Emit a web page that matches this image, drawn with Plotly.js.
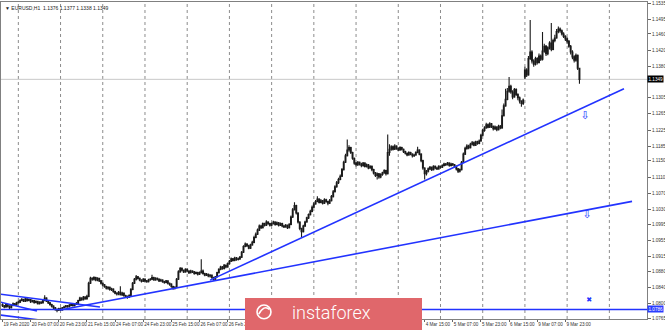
<!DOCTYPE html>
<html><head><meta charset="utf-8">
<script src="https://cdn.plot.ly/plotly-3.0.1.min.js"></script>
<style>html,body{margin:0;padding:0;background:#fff;}#chart{width:665px;height:330px;}</style>
</head><body><div id="chart"></div>
<script>
// EURUSD H1, prices stored in pips above 1.0700
const PIP_BASE = 1.07;
const openPips = [
98,95,92,98,94,90,96,100,97,102, 104,108,110,106,112,108,110,105,108,103,
106,100,104,102,108,114,106,102,98,94, 90,86,84,88,85,90,92,95,93,96,
98,95,99,100,108,114,110,116,112,118, 150,162,160,164,158,162,156,150,146,142,
138,140,135,136,130,126,124,128,122,126, 120,118,116,120,135,150,160,166,162,158,
155,160,156,154,158,160,164,158,162,160, 156,158,154,152,156,150,148,142,138,140,
160,178,186,182,178,184,180,176,180,178, 174,176,172,176,180,174,170,172,168,170,
164,160,166,176,184,190,186,194,190,198, 204,210,206,212,208,210,214,226,240,246,
242,236,244,250,262,270,280,290,286,296, 292,300,296,292,296,300,294,298,292,296,
290,288,292,286,294,312,330,340,322,300, 284,276,290,300,310,318,326,336,344,350,
356,348,352,346,354,350,346,352,362,374, 386,396,404,412,428,446,462,476,482,470,
456,444,440,446,442,438,444,436,440,432, 436,428,420,414,418,410,416,420,426,418,
470,478,484,478,486,480,476,482,478,472, 468,464,470,466,462,464,470,476,466,450,
432,418,424,430,434,428,436,432,430,436, 434,438,442,440,444,438,442,440,436,430,
424,428,446,466,480,486,482,490,494,488, 496,492,498,512,524,530,538,532,540,534,
528,532,526,534,530,560,584,600,620,632, 618,606,624,612,604,596,590,655,672,660,
700,716,694,686,700,690,706,698,718,730, 712,726,738,722,744,750,766,772,768,760,
754,748,742,730,716,704,696,708,676];
const highPips = [
101,97,100,99,96,98,103,102,105,107, 111,114,112,115,113,113,111,110,109,108,
107,106,106,110,121,116,108,104,100,96, 92,88,90,91,92,95,97,97,99,101,
100,101,104,110,117,116,119,118,122,154, 166,165,167,166,165,163,158,152,148,144,
143,142,139,138,132,128,131,143,129,127, 122,120,123,138,153,163,170,168,164,160,
163,162,158,161,163,171,166,165,164,162, 161,160,156,158,157,152,150,144,143,163,
182,190,189,184,187,186,182,183,182,180, 179,178,179,209,184,176,175,174,172,171,
166,168,178,187,193,192,197,196,201,207, 213,212,215,214,213,217,229,243,250,248,
244,247,254,266,274,284,294,293,299,298, 304,302,298,299,303,302,301,300,299,298,
293,295,294,297,316,334,348,342,324,302, 286,293,303,313,321,330,340,348,354,363,
358,356,354,358,357,352,356,366,378,390, 400,408,416,432,450,467,502,488,484,472,
458,447,449,448,445,447,446,443,442,439, 438,430,422,421,420,419,423,429,428,514,
490,488,487,490,488,483,485,484,480,474, 470,473,472,468,467,473,484,478,468,452,
434,427,433,437,436,439,438,435,439,438, 441,445,444,447,446,445,444,442,438,432,
431,449,470,484,490,489,494,498,497,499, 499,502,516,528,534,543,541,544,542,536,
536,534,538,537,575,590,626,628,655,636, 622,628,627,615,607,598,602,680,676,706,
794,720,698,704,703,712,710,765,736,733, 730,742,787,748,758,772,778,776,771,764,
757,752,745,733,720,708,712,710,677];
const lowPips = [
92,89,90,91,87,88,94,95,95,100, 102,106,104,104,105,106,102,103,100,101,
98,98,99,101,106,104,99,95,91,87, 83,79,82,82,83,88,90,90,91,94,
93,93,97,99,106,107,108,110,110,116, 148,156,157,155,155,153,147,143,139,135,
134,132,131,127,123,120,121,120,119,117, 115,112,114,118,133,148,157,159,155,152,
153,153,151,152,156,158,156,156,157,153, 154,151,149,150,147,144,139,134,135,138,
158,176,179,175,176,177,173,174,175,171, 172,169,170,174,171,167,168,165,164,161,
157,158,164,174,182,183,184,187,188,196, 202,203,204,205,206,207,212,224,238,239,
233,234,242,248,260,268,278,283,284,289, 290,293,289,290,294,291,292,289,290,287,
285,286,283,284,292,310,328,318,296,280, 263,274,288,298,307,316,324,334,342,348,
345,346,343,344,347,341,344,350,360,372, 384,393,402,410,426,444,460,472,466,452,
440,436,437,438,434,435,433,433,429,430, 424,416,410,404,406,407,413,418,414,416,
462,474,475,476,477,473,474,475,469,465, 461,462,463,458,459,462,468,463,446,428,
404,414,421,427,425,426,429,427,428,431, 432,436,437,438,435,436,437,433,426,420,
421,426,444,464,477,478,480,487,485,486, 489,490,496,510,521,528,529,530,530,524,
525,522,524,527,528,558,582,598,616,614, 600,604,608,598,590,582,586,650,655,658,
696,688,680,683,685,688,694,695,714,706, 708,722,718,720,740,748,762,763,756,750,
743,736,726,710,698,690,692,672,638];
const closePips = [
95,92,98,94,90,96,100,97,102,104, 108,110,106,112,108,110,105,108,103,106,
100,104,102,108,114,106,102,98,94,90, 86,84,88,85,90,92,95,93,96,98,
95,99,100,108,114,110,116,112,118,150, 162,160,164,158,162,156,150,146,142,138,
140,135,136,130,126,124,128,122,126,120, 118,116,120,135,150,160,166,162,158,155,
160,156,154,158,160,164,158,162,160,156, 158,154,152,156,150,148,142,138,140,160,
178,186,182,178,184,180,176,180,178,174, 176,172,176,180,174,170,172,168,170,164,
160,166,176,184,190,186,194,190,198,204, 210,206,212,208,210,214,226,240,246,242,
236,244,250,262,270,280,290,286,296,292, 300,296,292,296,300,294,298,292,296,290,
288,292,286,294,312,330,340,322,300,284, 276,290,300,310,318,326,336,344,350,356,
348,352,346,354,350,346,352,362,374,386, 396,404,412,428,446,462,476,482,470,456,
444,440,446,442,438,444,436,440,432,436, 428,420,414,418,410,416,420,426,418,470,
478,484,478,486,480,476,482,478,472,468, 464,470,466,462,464,470,476,466,450,432,
418,424,430,434,428,436,432,430,436,434, 438,442,440,444,438,442,440,436,430,424,
428,446,466,480,486,482,490,494,488,496, 492,498,512,524,530,538,532,540,534,528,
532,526,534,530,560,584,600,620,632,618, 606,624,612,604,596,590,598,672,660,700,
716,694,686,700,690,706,698,718,730,712, 726,738,722,744,750,766,772,768,760,754,
748,742,730,716,704,696,708,676,649];

// time-axis labels every 16 hourly bars (first bar = 19 Feb 2020 15:00)
const timeLabels = ["19 Feb 2020","20 Feb 07:00","20 Feb 23:00","21 Feb 15:00","24 Feb 07:00",
 "24 Feb 23:00","25 Feb 15:00","26 Feb 07:00","26 Feb 23:00","27 Feb 15:00","28 Feb 07:00",
 "28 Feb 23:00","2 Mar 15:00","3 Mar 07:00","3 Mar 23:00","4 Mar 15:00","5 Mar 07:00",
 "5 Mar 23:00","6 Mar 15:00","9 Mar 07:00","9 Mar 23:00"];
const priceTicks = [1.1535,1.1495,1.1460,1.1420,1.1380,1.1305,1.1265,1.1225,1.1185,1.1150,
 1.1110,1.1070,1.1030,1.0995,1.0955,1.0915,1.0880,1.0840,1.0800,1.0765];
const bidPrice = 1.1349;
const supportLevel = 1.0786;
// trend lines: [bar index, price] endpoints
const trendSteepX = [118.0, 353.3], trendSteepY = [1.08577, 1.13260];
const trendLowX = [32.7, 357.9],    trendLowY = [1.07845, 1.10504];
const chanAX = [-1.4, 55.4],        chanAY = [1.08236, 1.07920];
const chanBX = [-1.4, 19.6],        chanBY = [1.08041, 1.07821];
const chanCX = [-1.4, 21.3],        chanCY = [1.07724, 1.07600];
const arrowX = [331.2, 332.4], arrowY = [1.12577, 1.10163];
const crossX = [333.5], crossY = [1.08089];
const headerText = "\u25BC EURUSD,H1  1.1376 1.1377 1.1338 1.1349";

const bars = closePips.map((_, i) => i);
const px = v => +(PIP_BASE + v / 10000).toFixed(4);

const FONT = "Liberation Sans, Arial, sans-serif";
const BLUE = "#2233ff";

const traces = [
 {type:"candlestick", x:bars, open:openPips.map(px), high:highPips.map(px),
  low:lowPips.map(px), close:closePips.map(px),
  increasing:{line:{color:"#1a1a1a",width:1.1}, fillcolor:"#ffffff"},
  decreasing:{line:{color:"#1a1a1a",width:1.1}, fillcolor:"#1a1a1a"},
  whiskerwidth:0, hoverinfo:"skip", showlegend:false},
 {type:"scatter", mode:"lines", x:trendSteepX, y:trendSteepY, line:{color:BLUE,width:1.6}, showlegend:false, hoverinfo:"skip"},
 {type:"scatter", mode:"lines", x:trendLowX, y:trendLowY, line:{color:BLUE,width:1.6}, showlegend:false, hoverinfo:"skip"},
 {type:"scatter", mode:"lines", x:chanAX, y:chanAY, line:{color:BLUE,width:1.6}, showlegend:false, hoverinfo:"skip"},
 {type:"scatter", mode:"lines", x:chanBX, y:chanBY, line:{color:BLUE,width:1.6}, showlegend:false, hoverinfo:"skip"},
 {type:"scatter", mode:"lines", x:chanCX, y:chanCY, line:{color:BLUE,width:1.6}, showlegend:false, hoverinfo:"skip"},
 {type:"scatter", mode:"text", x:arrowX, y:arrowY, text:["\u21E9","\u21E9"],
  textfont:{color:BLUE,size:11,family:"DejaVu Sans"}, showlegend:false, hoverinfo:"skip"},
 {type:"scatter", mode:"text", x:crossX, y:crossY, text:["\u2716"],
  textfont:{color:BLUE,size:7,family:"DejaVu Sans"}, showlegend:false, hoverinfo:"skip"}
];

const shapes = [];
for (let b = 9; b < 366; b += 24) {
  shapes.push({type:"line", xref:"x", yref:"paper", x0:b, x1:b, y0:0, y1:1,
    line:{color:"#8c8c8c", width:1, dash:"dot"}, layer:"below"});
}
shapes.push({type:"line", xref:"paper", yref:"y", x0:0, x1:1, y0:bidPrice, y1:bidPrice,
  line:{color:"#c8c8c8", width:1}, layer:"below"});
shapes.push({type:"line", xref:"paper", yref:"y", x0:0, x1:1, y0:supportLevel, y1:supportLevel,
  line:{color:BLUE, width:1.6}, layer:"above"});
// watermark box and logo mark
shapes.push({type:"rect", xref:"paper", yref:"paper", x0:0.3777, x1:0.6517, y0:-0.04, y1:0.066,
  fillcolor:"#e0676b", line:{width:0}, layer:"above"});
shapes.push({type:"circle", xref:"paper", yref:"paper", x0:0.3963, x1:0.4179, y0:0.0008, y1:0.0440,
  line:{color:"#ffffff", width:1.6}, fillcolor:"rgba(0,0,0,0)", layer:"above"});
shapes.push({type:"path", xref:"paper", yref:"paper",
  path:"M0.3990,0.0150 Q0.4071,0.0460 0.4155,0.0300", line:{color:"#ffffff", width:1.6}, layer:"above"});

const annotations = [
 {xref:"paper", yref:"paper", x:0.003, y:0.998, xanchor:"left", yanchor:"top", showarrow:false,
  text:headerText, font:{family:FONT,size:5,color:"#222"}},
 {xref:"paper", yref:"y", x:1, y:bidPrice, xanchor:"left", yanchor:"middle", showarrow:false,
  text:"1.1349", bgcolor:"#000", font:{family:FONT,size:4.6,color:"#fff"}, borderpad:0.5},
 {xref:"paper", yref:"y", x:1, y:supportLevel, xanchor:"left", yanchor:"middle", showarrow:false,
  text:"1.0786", bgcolor:"#2a3cff", font:{family:FONT,size:4.6,color:"#fff"}, borderpad:0.5},
 {xref:"paper", yref:"paper", x:0.5116, y:0.022, xanchor:"center", yanchor:"middle", showarrow:false,
  text:"instaforex", font:{family:"Roboto, sans-serif",size:18,color:"#ffffff",weight:300}}
];

const layout = {
  width:665, height:330, margin:{l:1, r:18, t:2, b:11},
  paper_bgcolor:"#ffffff", plot_bgcolor:"#ffffff",
  showlegend:false, dragmode:false,
  xaxis:{type:"linear", range:[-0.85, 366.4], rangeslider:{visible:false},
    tickmode:"array", tickvals:timeLabels.map((_, k) => k * 16), ticktext:timeLabels,
    ticklabelposition:"outside right", tickangle:0, ticks:"outside", ticklen:2, tickcolor:"#666",
    tickfont:{family:FONT,size:4.6,color:"#333"}, showgrid:false, zeroline:false,
    showline:true, mirror:true, linecolor:"#808080", linewidth:1, fixedrange:true},
  yaxis:{side:"right", range:[1.07626, 1.15382], tickmode:"array", tickvals:priceTicks,
    ticktext:priceTicks.map(v => v.toFixed(4)), ticks:"outside", ticklen:3, tickcolor:"#666",
    tickfont:{family:FONT,size:4.6,color:"#333"}, showgrid:false, zeroline:false,
    showline:true, mirror:true, linecolor:"#808080", linewidth:1, fixedrange:true},
  shapes, annotations
};

Plotly.newPlot("chart", traces, layout, {displayModeBar:false, staticPlot:true});
</script></body></html>
